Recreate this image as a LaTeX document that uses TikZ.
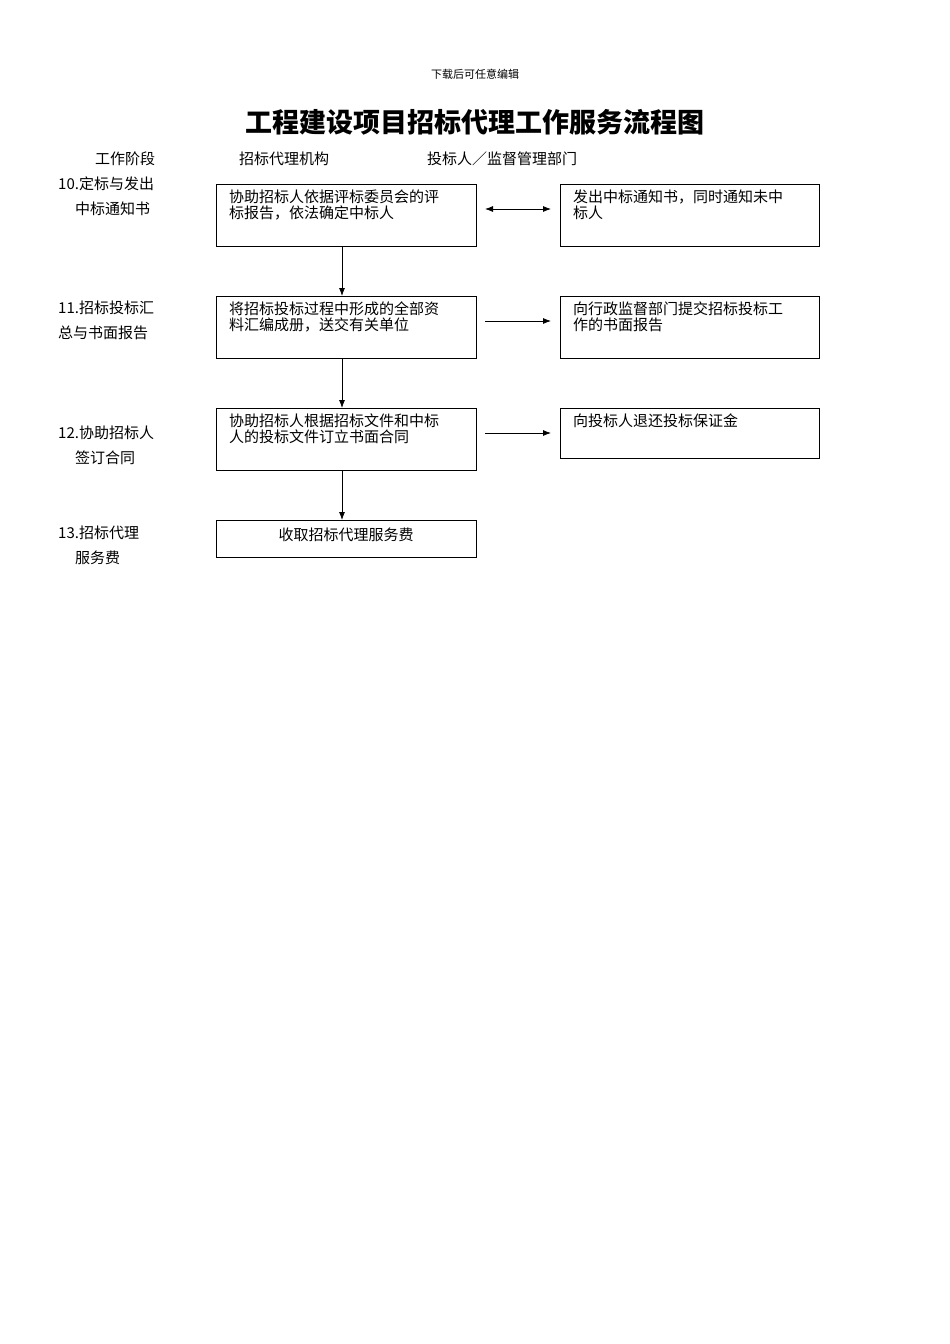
\documentclass[tikz,border=0pt]{standalone}
\usepackage{fontspec}
\setmainfont{Liberation Serif}
\newfontfamily\cjk{Noto Sans CJK SC}
\usetikzlibrary{arrows.meta}
\begin{document}
\begin{tikzpicture}[x=1pt,y=-1pt,
  bx/.style={draw,line width=0.8pt},
  bt/.style={anchor=north west,align=left,inner sep=0pt,font=\cjk\fontsize{15}{15.5}\selectfont},
  lb/.style={anchor=west,align=left,inner sep=0pt,font=\cjk\fontsize{15}{25}\selectfont},
  ar/.style={-{Latex[length=8pt,width=6pt]},line width=0.8pt}]
\useasboundingbox (0,0) rectangle (950,1344);
\node (hd) at (475,74) {\cjk\fontsize{11}{12}\selectfont 下载后可任意编辑};
\node (tt) at (475,122) {\cjk\bfseries\fontsize{27}{30}\selectfont 工程建设项目招标代理工作服务流程图};
\node (c1) at (125,159) {\cjk\fontsize{15}{16}\selectfont 工作阶段};
\node (c2) at (284,159) {\cjk\fontsize{15}{16}\selectfont 招标代理机构};
\node (c3) at (502,159) {\cjk\fontsize{15}{16}\selectfont 投标人／监督管理部门};
\node[lb] (s1) at (58,196) {10.定标与发出\\\hspace*{17pt}中标通知书};
\node[lb] (s2) at (58,320) {11.招标投标汇\\总与书面报告};
\node[lb] (s3) at (58,445) {12.协助招标人\\\hspace*{17pt}签订合同};
\node[lb] (s4) at (58,545) {13.招标代理\\\hspace*{17pt}服务费};
\draw[bx] (216,184) rectangle (476,246) coordinate (a1e);
\coordinate (a1) at (216,184);
\draw[bx] (216,296) rectangle (476,358);
\draw[bx] (216,408) rectangle (476,470);
\draw[bx] (216,520) rectangle (476,557);
\draw[bx] (560,184) rectangle (819,246);
\draw[bx] (560,296) rectangle (819,358);
\draw[bx] (560,408) rectangle (819,458);
\node[bt] (t1) at (229,190) {协助招标人依据评标委员会的评\\标报告，依法确定中标人};
\node[bt] (t2) at (229,302) {将招标投标过程中形成的全部资\\料汇编成册，送交有关单位};
\node[bt] (t3) at (229,414) {协助招标人根据招标文件和中标\\人的投标文件订立书面合同};
\node[font=\cjk\fontsize{15}{16}\selectfont] (t4) at (346,535) {收取招标代理服务费};
\node[bt] (r1) at (573,190) {发出中标通知书，同时通知未中\\标人};
\node[bt] (r2) at (573,302) {向行政监督部门提交招标投标工\\作的书面报告};
\node[bt] (r3) at (573,414) {向投标人退还投标保证金};
\coordinate (v1a) at (342,246); \coordinate (v1b) at (342,296);
\coordinate (v2a) at (342,358); \coordinate (v2b) at (342,408);
\coordinate (v3a) at (342,470); \coordinate (v3b) at (342,520);
\draw[ar] (v1a) -- (v1b);
\draw[ar] (v2a) -- (v2b);
\draw[ar] (v3a) -- (v3b);
\coordinate (h1a) at (485,209); \coordinate (h1b) at (551,209);
\coordinate (h2a) at (485,321); \coordinate (h2b) at (551,321);
\coordinate (h3a) at (485,433); \coordinate (h3b) at (551,433);
\draw[ar,{Latex[length=8pt,width=6pt]}-{Latex[length=8pt,width=6pt]}] (h1a) -- (h1b);
\draw[ar] (h2a) -- (h2b);
\draw[ar] (h3a) -- (h3b);
\end{tikzpicture}
\end{document}
